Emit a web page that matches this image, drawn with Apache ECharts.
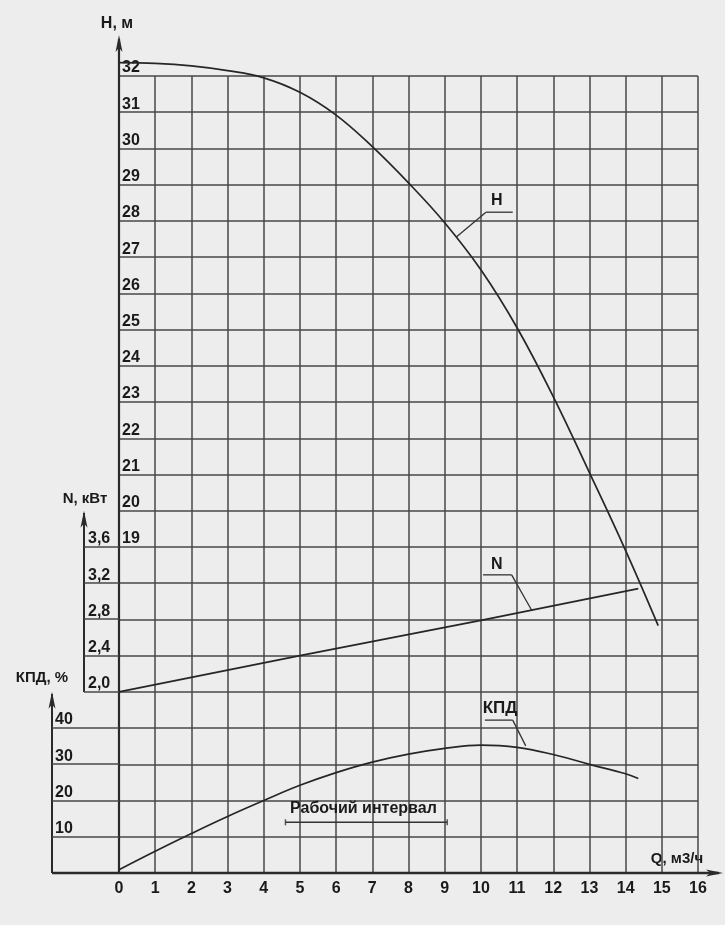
<!DOCTYPE html>
<html><head><meta charset="utf-8">
<script src="https://cdn.jsdelivr.net/npm/echarts@6/dist/echarts.min.js"></script>
<style>html,body{margin:0;padding:0;background:#ededed}#c{width:725px;height:925px}</style>
</head><body><div id="c"></div>
<script>
// ---------- data ----------
const qTicks = [0,1,2,3,4,5,6,7,8,9,10,11,12,13,14,15,16];
const hTickLabels = [19,20,21,22,23,24,25,26,27,28,29,30,31,32];
const nTickValues = [2.0,2.4,2.8,3.2,3.6];
const nTickLabels = ['2,0','2,4','2,8','3,2','3,6'];
const kpdTickLabels = [10,20,30,40];

const hQ   = [0, 1, 2, 3, 4, 5, 6, 7, 8, 9, 10, 11, 12, 13, 14, 14.9];
const hVal = [32.37, 32.35, 32.28, 32.15, 31.95, 31.55, 30.92, 30.05, 29.05, 27.95, 26.65, 25.05, 23.15, 21.05, 18.9, 16.83];

const nQ   = [0, 5, 10, 14.35];
const nVal = [2.0, 2.4, 2.79, 3.14];

const kpdQ   = [0, 1, 2, 3, 4, 5, 6, 7, 8, 9, 10, 11, 12, 13, 14, 14.35];
const kpdVal = [0.9, 6.0, 10.9, 15.6, 20.0, 24.2, 27.7, 30.6, 32.8, 34.4, 35.3, 34.7, 32.7, 30.0, 27.4, 26.1];

const workRange = [4.6, 9.07];   // Рабочий интервал, Q
const workLevel = 14;            // on КПД scale
const workText = 'Рабочий интервал';

// ---------- layout / style ----------
const W = 725, Hh = 925;
const GRID = {left: 119, right: 27, top: 76, bottom: 52};
const pxPerQ = (W - GRID.left - GRID.right) / (qTicks[qTicks.length-1] - qTicks[0]);
const nAxisQ = -35 / pxPerQ;
const kpdAxisQ = -67 / pxPerQ;
const xAxisEndQ = (723 - GRID.left) / pxPerQ;
const hTip = 33.13, nTip = 4.0, kpdTip = 50;
const FONT = "'Liberation Sans', Arial, sans-serif";
const TXT = '#1a1a1a';
const GRIDC = '#474747';
const CURVE = '#262626';

const arrowUp = 'path://M5,0 L10,20 L5,15 L0,20 Z';
const arrowRight = 'path://M20,5 L0,10 L5,5 L0,0 Z';

// segments drawn through a custom series: each item [x1, y1, x2, y2, width]
function segs(list, yIdx, color, crisp) {
  return {type:'custom', xAxisIndex:0, yAxisIndex:yIdx, clip:false, silent:true, z:3,
    encode:{x:[0,2], y:[1,3]},
    data:list,
    renderItem:function(params, api){
      const p1 = api.coord([api.value(0), api.value(1)]);
      const p2 = api.coord([api.value(2), api.value(3)]);
      if (crisp) { p1[0]=Math.round(p1[0]); p1[1]=Math.round(p1[1]); p2[0]=Math.round(p2[0]); p2[1]=Math.round(p2[1]); }
      return {type:'line', shape:{x1:p1[0], y1:p1[1], x2:p2[0], y2:p2[1]},
        style:{stroke:color||GRIDC, lineWidth:api.value(4), fill:null}};
    }};
}
function polySeg(points, yIdx, width, color) {
  const list = [];
  for (let i = 0; i < points.length-1; i++) list.push([points[i][0], points[i][1], points[i+1][0], points[i+1][1], width]);
  return segs(list, yIdx, color, false);
}
function arrow(pt, yIdx, dir) {
  return {type:'scatter', xAxisIndex:0, yAxisIndex:yIdx, clip:false, silent:true, z:5,
    data:[{value:pt,
      symbol: dir==='up' ? arrowUp : arrowRight,
      symbolSize: dir==='up' ? [7,17] : [17,7],
      symbolOffset: dir==='up' ? [0,'50%'] : ['-50%',0]}],
    itemStyle:{color:'#2a2a2a', opacity:1}};
}
function textMark(pt, yIdx, text, size) {
  return {type:'scatter', xAxisIndex:0, yAxisIndex:yIdx, clip:false, silent:true, z:6,
    symbolSize:1, itemStyle:{color:'rgba(0,0,0,0)'},
    data:[{value:pt, name:text}],
    label:{show:true, position:'inside', formatter:'{b}', color:TXT, fontFamily:FONT,
      fontWeight:'bold', fontSize:size||16, textBorderWidth:0, textBorderColor:'transparent', opacity:1}};
}

const series = [];
// curves
series.push({name:'H', type:'line', xAxisIndex:0, yAxisIndex:0, smooth:0.4, symbol:'none', clip:false,
  data:hQ.map((q,i)=>[q,hVal[i]]), lineStyle:{color:CURVE, width:1.7}, z:4, animation:false});
series.push({name:'N', type:'line', xAxisIndex:0, yAxisIndex:1, smooth:false, symbol:'none', clip:false,
  data:nQ.map((q,i)=>[q,nVal[i]]), lineStyle:{color:CURVE, width:1.7}, z:4, animation:false});
series.push({name:'КПД', type:'line', xAxisIndex:0, yAxisIndex:2, smooth:0.4, symbol:'none', clip:false,
  data:kpdQ.map((q,i)=>[q,kpdVal[i]]), lineStyle:{color:CURVE, width:1.7}, z:4, animation:false});

// axis lines
series.push(segs([[kpdAxisQ,10,xAxisEndQ-0.1,10,2.6],[0,10,0,hTip-0.1,2.2]], 0, '#2a2a2a', true));
series.push(segs([[nAxisQ,nTickValues[0],nAxisQ,nTip-0.02,2]], 1, '#2a2a2a', true));
series.push(segs([[kpdAxisQ,0,kpdAxisQ,kpdTip-0.5,2]], 2, '#2a2a2a', true));
series.push(arrow([xAxisEndQ,10], 0, 'right'));
series.push(arrow([0,hTip], 0, 'up'));
series.push(arrow([nAxisQ,nTip], 1, 'up'));
series.push(arrow([kpdAxisQ,kpdTip], 2, 'up'));

// grid line extensions left of the H axis
series.push(segs(nTickValues.map(v=>[nAxisQ,v,0,v,1.5]), 1, GRIDC, true));
series.push(segs(kpdTickLabels.map(v=>[kpdAxisQ,v,0,v,1.5]), 2, GRIDC, true));

// curve labels with leaders
series.push(polySeg([[9.33,27.56],[10.14,28.24],[10.88,28.24]], 0, 1.3, '#333'));
series.push(polySeg([[10.06,18.23],[10.85,18.23],[11.40,17.26]], 0, 1.3, '#333'));
series.push(polySeg([[10.11,14.22],[10.88,14.22],[11.24,13.51]], 0, 1.3, '#333'));
series.push(textMark([10.44,28.55], 0, 'H', 16));
series.push(textMark([10.44,18.52], 0, 'N', 16));
series.push(textMark([10.53,14.55], 0, 'КПД', 17));

// working interval
series.push(polySeg([[workRange[0],workLevel],[workRange[1],workLevel]], 2, 1.6, '#333'));
series.push({type:'scatter', xAxisIndex:0, yAxisIndex:2, clip:false, silent:true, z:5,
  symbol:'rect', symbolSize:[1.5,6], itemStyle:{color:'#333'},
  data:[[workRange[0],workLevel],[workRange[1],workLevel]]});
series.push(textMark([(workRange[0]+workRange[1])/2 - 0.08, workLevel+3.8], 2, workText, 16));

const labelBase = {fontFamily:FONT, fontWeight:'bold', fontSize:16, color:TXT};

const option = {
  backgroundColor:'#ededed',
  animation:false,
  grid:{left:GRID.left, right:GRID.right, top:GRID.top, bottom:GRID.bottom, containLabel:false, outerBoundsMode:'none'},
  xAxis:[{type:'value', min:qTicks[0], max:qTicks[qTicks.length-1], interval:1,
    axisLine:{show:false}, axisTick:{show:false},
    splitLine:{show:true, lineStyle:{color:GRIDC, width:1.5}},
    axisLabel:Object.assign({margin:8, formatter:v=>qTicks.includes(v)?String(v):''}, labelBase)}],
  yAxis:[
    {type:'value', min:10, max:32, interval:1, position:'left',
      axisLine:{show:false}, axisTick:{show:false},
      splitLine:{show:true, lineStyle:{color:GRIDC, width:1.5}},
      axisLabel:Object.assign({inside:true, margin:3, align:'left', verticalAlign:'bottom', lineHeight:16,
        formatter:v=>hTickLabels.includes(Math.round(v))&&Math.abs(v-Math.round(v))<1e-6?String(Math.round(v)):''}, labelBase)},
    {type:'value', min:0, max:8.8, interval:0.4, position:'left', offset:35,
      axisLine:{show:false}, axisTick:{show:false}, splitLine:{show:false},
      axisLabel:Object.assign({inside:true, margin:4, align:'left', verticalAlign:'bottom', lineHeight:16,
        formatter:v=>{const s=v.toFixed(1).replace('.',','); return nTickLabels.includes(s)?s:'';}}, labelBase)},
    {type:'value', min:0, max:220, interval:10, position:'left', offset:67,
      axisLine:{show:false}, axisTick:{show:false}, splitLine:{show:false},
      axisLabel:Object.assign({inside:true, margin:3, align:'left', verticalAlign:'bottom', lineHeight:16,
        formatter:v=>kpdTickLabels.includes(Math.round(v))?String(Math.round(v)):''}, labelBase)}
  ],
  graphic:[
    {type:'text', x:117, y:24, silent:true, style:{text:'H, м', font:'bold 16px '+FONT, fill:TXT, textAlign:'center', textVerticalAlign:'middle', align:'center', verticalAlign:'middle'}},
    {type:'text', x:85, y:499, silent:true, style:{text:'N, кВт', font:'bold 15px '+FONT, fill:TXT, textAlign:'center', textVerticalAlign:'middle', align:'center', verticalAlign:'middle'}},
    {type:'text', x:42, y:678, silent:true, style:{text:'КПД, %', font:'bold 15px '+FONT, fill:TXT, textAlign:'center', textVerticalAlign:'middle', align:'center', verticalAlign:'middle'}},
    {type:'text', x:677, y:859, silent:true, style:{text:'Q, м3/ч', font:'bold 15px '+FONT, fill:TXT, textAlign:'center', textVerticalAlign:'middle', align:'center', verticalAlign:'middle'}}
  ],
  series:series
};
const chart = echarts.init(document.getElementById('c'), null, {renderer:'canvas', width:W, height:Hh});
chart.setOption(option);
</script></body></html>
